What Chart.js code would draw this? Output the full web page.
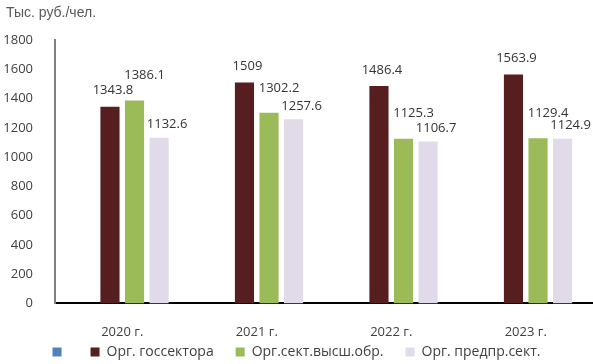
<!DOCTYPE html>
<html>
<head>
<meta charset="utf-8">
<script src="https://cdn.jsdelivr.net/npm/chart.js@4"></script>
<style>
  html, body { margin: 0; padding: 0; background: #fff; }
  #wrap { width: 593px; height: 364px; }
</style>
</head>
<body>
<div id="wrap"><canvas id="chart" width="593" height="364"></canvas></div>
<script>
const years = ["2020 г.", "2021 г.", "2022 г.", "2023 г."];
const blankSeries = [null, null, null, null];
const govSector = [1343.8, 1509, 1486.4, 1563.9];
const higherEdu = [1386.1, 1302.2, 1125.3, 1129.4];
const businessSector = [1132.6, 1257.6, 1106.7, 1124.9];
const yTicks = [0, 200, 400, 600, 800, 1000, 1200, 1400, 1600, 1800];
const unitLabel = "Тыс. руб./чел.";

const FONT = "'Open Sans', sans-serif";

function unitTitlePlugin() {
  return {
    id: "unit-title",
    afterDraw(chart) {
      const { ctx } = chart;
      ctx.save();
      ctx.font = `14px 'Liberation Sans', Arial, sans-serif`;
      ctx.fillStyle = "#595959";
      ctx.textAlign = "left";
      ctx.textBaseline = "middle";
      ctx.fillText(unitLabel, 6, 13);
      ctx.restore();
    },
  };
}

// legend keeps its wide item spacing, but sits closer to the axis labels
function legendShiftPlugin(shift) {
  return {
    id: "legend-shift",
    afterLayout(chart) {
      if (!chart.legend) return;
      chart.legend.top += shift;
      chart.legend.bottom += shift;
    },
  };
}

function valueLabelPlugin() {
  return {
    id: "value-labels",
    afterDatasetsDraw(chart) {
      const { ctx } = chart;
      ctx.save();
      ctx.font = `13px ${FONT}`;
      ctx.fillStyle = "#333333";
      ctx.textAlign = "center";
      ctx.textBaseline = "middle";
      chart.data.datasets.forEach((dataset, datasetIndex) => {
        const meta = chart.getDatasetMeta(datasetIndex);
        const [dx, dy] = dataset.labelOffset || [0, -12];
        meta.data.forEach((element, index) => {
          const value = dataset.data[index];
          if (value == null) return;
          ctx.fillText(String(value), element.x + dx, element.y + dy);
        });
      });
      ctx.restore();
    },
  };
}

new Chart(document.getElementById("chart"), {
  type: "bar",
  data: {
    labels: years,
    datasets: [
      { label: "", data: blankSeries, backgroundColor: "#4f81bd" },
      { label: "Орг. госсектора", data: govSector, backgroundColor: "#561e1e", labelOffset: [3, -16] },
      { label: "Орг.сект.высш.обр.", data: higherEdu, backgroundColor: "#9bbb59", labelOffset: [10, -25] },
      { label: "Орг. предпр.сект.", data: businessSector, backgroundColor: "#e1dae9", labelOffset: [8, -13] },
    ],
  },
  options: {
    responsive: false,
    animation: false,
    layout: { padding: { top: 40, left: 0, right: 0, bottom: -35 } },
    datasets: { bar: { categoryPercentage: 0.73, barPercentage: 0.78 } },
    plugins: {
      legend: {
        position: "bottom",
        labels: {
          boxWidth: 9,
          boxHeight: 9,
          padding: 22,
          color: "#404040",
          font: { family: FONT, size: 14 },
        },
      },
      tooltip: { enabled: false },
      title: { display: false },
    },
    scales: {
      x: {
        grid: { display: false },
        border: { display: true, color: "#000000", width: 2 },
        ticks: { color: "#404040", font: { family: FONT, size: 13 }, padding: 13 },
      },
      y: {
        min: 0,
        max: 1800,
        afterBuildTicks(axis) {
          axis.ticks = yTicks.map((value) => ({ value }));
        },
        afterFit(axis) {
          axis.width = 55;
        },
        grid: { display: false },
        border: { display: true, color: "#7f7f7f", width: 2 },
        ticks: {
          color: "#404040",
          font: { family: FONT, size: 13 },
          padding: 14,
          callback: (value) => String(value),
        },
      },
    },
  },
  plugins: [unitTitlePlugin(), valueLabelPlugin(), legendShiftPlugin(-30)],
});
</script>
</body>
</html>
